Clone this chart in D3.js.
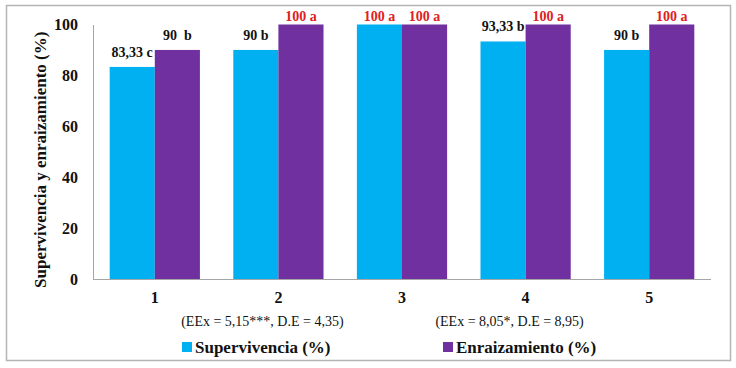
<!DOCTYPE html>
<html>
<head>
<meta charset="utf-8">
<script src="https://cdn.jsdelivr.net/npm/d3@7"></script>
<style>
  body { margin: 0; background: #fff; }
  svg text { font-family: "Liberation Serif", "Times New Roman", serif; }
</style>
</head>
<body>
<svg id="chart" width="736" height="368"></svg>
<script>
const categories = ["1", "2", "3", "4", "5"];
const series = ["Supervivencia (%)", "Enraizamiento (%)"];
const supervivencia = [83.33, 90, 100, 93.33, 90];
const enraizamiento = [90, 100, 100, 100, 100];
const supLabels = ["83,33 c", "90 b", "100 a", "93,33 b", "90 b"];
const enrLabels = ["90  b", "100 a", "100 a", "100 a", "100 a"];
const yTicks = [0, 20, 40, 60, 80, 100];
const notes = [
  { cat: "2", text: "(EEx = 5,15***, D.E = 4,35)" },
  { cat: "4", text: "(EEx = 8,05*, D.E = 8,95)" }
];

const colors = ["#00b0f0", "#7030a0"];
const serif = "'Liberation Serif', 'Times New Roman', serif";
const svg = d3.select("#chart");

// outer frame
svg.append("rect").attr("x", 6.5).attr("y", 5.5).attr("width", 724).attr("height", 355)
  .attr("fill", "#fff").attr("stroke", "#b4b4b4").attr("stroke-width", 1.5);

const plotL = 93, plotR = 711, plotT = 24.5, plotB = 279;

const x0 = d3.scaleBand().domain(categories).range([plotL, plotR])
  .paddingInner(0.27).paddingOuter(0.135);
const x1 = d3.scaleBand().domain(series).range([0, x0.bandwidth()]);
const y = d3.scaleLinear().domain([0, 100]).range([plotB, plotT]);

const rows = categories.map((c, i) => ({
  cat: c,
  vals: [
    { s: series[0], v: supervivencia[i], label: supLabels[i] },
    { s: series[1], v: enraizamiento[i], label: enrLabels[i] }
  ]
}));

const groups = svg.append("g").selectAll("g").data(rows).join("g")
  .attr("transform", d => `translate(${x0(d.cat)},0)`);

groups.selectAll("rect").data(d => d.vals).join("rect")
  .attr("x", d => x1(d.s))
  .attr("y", d => y(d.v))
  .attr("width", x1.bandwidth())
  .attr("height", d => y(0) - y(d.v))
  .attr("fill", (d, i) => colors[i]);

groups.selectAll("text").data(d => d.vals).join("text")
  .attr("x", d => x1(d.s) + x1.bandwidth() / 2)
  .attr("y", d => Math.max(y(d.v) - 10, 21))
  .attr("text-anchor", "middle")
  .style("white-space", "pre")
  .style("font-family", serif)
  .attr("font-size", 14)
  .attr("font-weight", "bold")
  .attr("fill", d => d.label.endsWith("a") ? "#e0201c" : "#111")
  .text(d => d.label);

// axes
const yAxis = svg.append("g").attr("transform", `translate(${plotL},0)`)
  .call(d3.axisLeft(y).tickValues(yTicks).tickSize(0).tickPadding(15));
yAxis.select(".domain").attr("stroke", "#a6a6a6");
yAxis.selectAll("text").attr("font-size", 16).attr("font-weight", "bold")
  .attr("fill", "#111").style("font-family", serif);

const xAxis = svg.append("g").attr("transform", `translate(0,${plotB})`)
  .call(d3.axisBottom(x0).tickSize(0).tickPadding(13));
xAxis.select(".domain").attr("stroke", "#a6a6a6").attr("d", `M${plotL},0.5H${plotR}`);
xAxis.selectAll("text").attr("font-size", 16).attr("font-weight", "bold")
  .attr("fill", "#111").style("font-family", serif);

// axis title
svg.append("text")
  .attr("transform", `translate(46,${(plotT + plotB) / 2 + 8}) rotate(-90)`)
  .attr("text-anchor", "middle")
  .style("font-family", serif)
  .attr("font-size", 17).attr("font-weight", "bold").attr("fill", "#111")
  .text("Supervivencia y enraizamiento (%)");

// notes under categories (sit a little left of the category centre)
svg.append("g").selectAll("text").data(notes).join("text")
  .attr("x", d => x0(d.cat) + x0.bandwidth() / 2 - 16)
  .attr("y", 326)
  .attr("text-anchor", "middle")
  .style("font-family", serif)
  .attr("font-size", 14).attr("fill", "#111")
  .text(d => d.text);

// legend
const legendX = [182, 443];
const legend = svg.append("g").selectAll("g").data(series).join("g")
  .attr("transform", (d, i) => `translate(${legendX[i]},342)`);
legend.append("rect").attr("width", 10).attr("height", 10).attr("fill", (d, i) => colors[i]);
legend.append("text").attr("x", 13).attr("y", 10.5)
  .style("font-family", serif)
  .attr("font-size", 17).attr("font-weight", "bold").attr("fill", "#111")
  .text(d => d);
</script>
</body>
</html>
